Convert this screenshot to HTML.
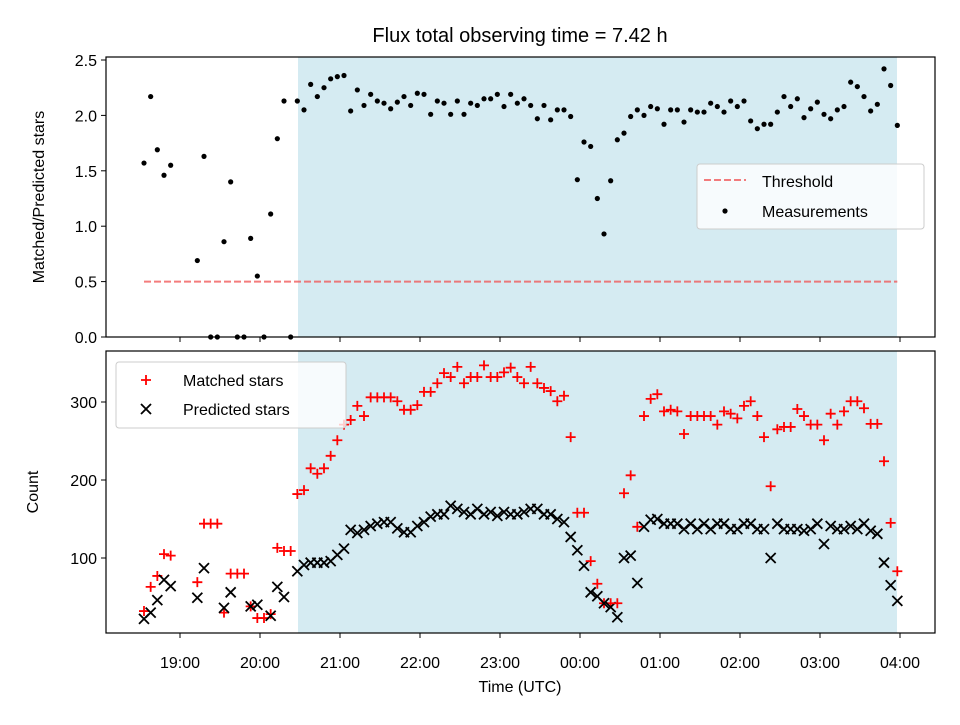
<!DOCTYPE html>
<html><head><meta charset="utf-8"><style>
body{margin:0;background:#fff;}
svg{font-family:"Liberation Sans",sans-serif;}
</style></head><body>
<svg id="chart" width="960" height="720" xmlns="http://www.w3.org/2000/svg">
<rect width="960" height="720" fill="#fff"/>
<text x="520" y="42" font-size="20" text-anchor="middle">Flux total observing time = 7.42 h</text>
<g id="topPanel"></g><g id="botPanel"></g>
</svg>
<script>
// times: minutes after 19:00
const times=[-27,-22,-17,-12,-7,-2,3,8,13,18,23,28,33,38,43,48,53,58,63,68,73,78,83,88,93,98,103,108,113,118,123,128,133,138,143,148,153,158,163,168,173,178,183,188,193,198,203,208,213,218,223,228,233,238,243,248,253,258,263,268,273,278,283,288,293,298,303,308,313,318,323,328,333,338,343,348,353,358,363,368,373,378,383,388,393,398,403,408,413,418,423,428,433,438,443,448,453,458,463,468,473,478,483,488,493,498,503,508,513,518,523,528,533,538];
const ratioVals=[1.57,2.17,1.69,1.46,1.55,null,null,null,0.69,1.63,0,0,0.86,1.40,0,0,0.89,0.55,0,1.11,1.79,2.13,0,
2.13,2.05,2.28,2.17,2.25,2.33,2.35,2.36,2.04,2.23,2.09,2.19,2.13,2.11,2.06,2.12,2.17,2.09,2.2,2.19,2.01,2.13,2.11,2.01,2.13,2.01,2.11,2.09,2.15,2.15,2.19,2.08,2.19,2.11,2.15,2.09,1.97,2.09,1.96,2.05,2.05,1.99,1.42,1.76,1.72,1.25,0.93,1.41,1.78,1.84,1.99,2.05,2.0,2.08,2.06,1.92,2.05,2.05,1.94,2.05,2.03,2.03,2.11,2.08,2.03,2.13,2.08,2.13,1.95,1.88,1.92,1.92,2.03,2.17,2.08,2.15,1.98,2.06,2.12,2.01,1.97,2.05,2.08,2.3,2.26,2.17,2.04,2.1,2.42,2.27,1.91];
const matchedVals=[32,63,77,105,103,null,null,null,69,144,144,144,30,80,80,80,38,23,23,28,113,109,109,
182,187,215,208,215,231,251,271,277,295,282,306,306,306,306,301,290,290,296,313,313,324,337,332,345,324,332,332,347,332,332,338,344,332,324,345,324,318,314,301,308,255,158,158,96,67,42,42,42,183,206,140,282,304,310,288,290,288,259,282,282,282,282,271,288,285,279,295,301,282,255,192,265,268,268,291,282,271,271,251,285,271,288,301,301,292,272,272,224,145,83];
const predictedVals=[22,30,46,72,64,null,null,null,49,87,null,null,36,56,null,null,38,40,null,26,63,50,null,
83,91,94,94,94,96,104,112,136,132,136,141,144,146,146,138,133,133,141,146,153,156,156,167,163,159,156,163,156,159,154,159,156,156,159,163,163,156,156,150,146,127,110,90,56,51,42,37,24,100,103,68,140,149,150,144,144,144,137,144,137,144,137,144,144,137,137,144,144,137,137,100,144,137,137,137,135,137,144,118,141,137,137,141,137,144,135,131,94,65,45];
const xTicks=[0,60,120,180,240,300,360,420,480,540];
const xTickLabels=["19:00","20:00","21:00","22:00","23:00","00:00","01:00","02:00","03:00","04:00"];
const topYTicks=[0,0.5,1,1.5,2,2.5];
const botYTicks=[100,200,300];
const shadeRange=[88.5,537.75];
const threshold=0.5;

const NS="http://www.w3.org/2000/svg";
const L=106,R=935,T1=57,B1=337,T2=351,B2=633;
const xs=t=>180+t*80/60;
const yTop=v=>337-v*110.8;
const yBot=v=>558-(v-100)*0.78;
function mk(p,tag,a){const e=document.createElementNS(NS,tag);for(const k in a)e.setAttribute(k,a[k]);p.appendChild(e);return e;}
const gTop=document.getElementById('topPanel'),gBot=document.getElementById('botPanel');

function panel(g,T,B,yf,ticks,fmt,name){
  const s=mk(g,'rect',{x:xs(shadeRange[0]),y:T,width:xs(shadeRange[1])-xs(shadeRange[0]),height:B-T,fill:'#d5ebf2'});
  
  
  ticks.forEach(v=>{const y=yf(v);
    const l=mk(g,'line',{x1:L-5,x2:L,y1:y,y2:y,stroke:'#000','stroke-width':1});
    
    
    const t=mk(g,'text',{x:L-9,y:y+6,'font-size':16,'text-anchor':'end'});t.textContent=fmt(v);
    
    
  });
  xTicks.forEach(v=>{const x=xs(v);
    const l=mk(g,'line',{x1:x,x2:x,y1:B,y2:B+5,stroke:'#000','stroke-width':1});
    
    
  });
}
panel(gTop,T1,B1,yTop,topYTicks,v=>v.toFixed(1),'top');
panel(gBot,T2,B2,yBot,botYTicks,v=>String(v),'bottom');

const th=mk(gTop,'line',{x1:xs(times[0]),x2:xs(times[times.length-1]),y1:yTop(threshold),y2:yTop(threshold),stroke:'rgba(240,80,80,0.75)','stroke-width':2,'stroke-dasharray':'7,3'});



times.forEach((t,i)=>{const x=xs(t);
  if(ratioVals[i]!=null){const c=mk(gTop,'circle',{cx:x,cy:yTop(ratioVals[i]),r:2.6,fill:'#000'});
    
    }
  if(matchedVals[i]!=null){const y=yBot(matchedVals[i]);
    const p=mk(gBot,'path',{d:`M${x-5} ${y}h10M${x} ${y-5}v10`,stroke:'#f00','stroke-width':1.8});
    
    }
  if(predictedVals[i]!=null){const y=yBot(predictedVals[i]);
    const p=mk(gBot,'path',{d:`M${x-5} ${y-5}l10 10M${x-5} ${y+5}l10 -10`,stroke:'#000','stroke-width':1.8});
    
    }
});

[[T1,B1,gTop,'top-axes-frame'],[T2,B2,gBot,'bottom-axes-frame']].forEach(([T,B,g,n])=>{
  const r=mk(g,'rect',{x:L,y:T,width:R-L,height:B-T,fill:'none',stroke:'#000','stroke-width':1.2});
  
  
});
xTicks.forEach((v,i)=>{const t=mk(gBot,'text',{x:xs(v),y:668,'font-size':16,'text-anchor':'middle'});t.textContent=xTickLabels[i];
  
  });
</script>
<svg style="position:absolute;left:0;top:0" width="960" height="720" xmlns="http://www.w3.org/2000/svg" font-family="Liberation Sans, sans-serif">
<text x="520" y="692" font-size="16" text-anchor="middle">Time (UTC)</text>
<text transform="translate(44,197) rotate(-90)" font-size="16" text-anchor="middle">Matched/Predicted stars</text>
<text transform="translate(38,492) rotate(-90)" font-size="16" text-anchor="middle">Count</text>
<g>
<rect x="697" y="164" width="227" height="65" rx="3" fill="rgba(255,255,255,0.8)" stroke="#ccc"/>
<line x1="704" x2="746" y1="180" y2="180" stroke="rgba(240,80,80,0.75)" stroke-width="2" stroke-dasharray="7,3"/>
<text x="762" y="187" font-size="16">Threshold</text>
<circle cx="725" cy="211" r="2.6" fill="#000"/>
<text x="762" y="217" font-size="16">Measurements</text>
</g>
<g>
<rect x="116" y="362" width="230" height="66" rx="3" fill="rgba(255,255,255,0.8)" stroke="#ccc"/>
<path d="M141 380h10M146 375v10" stroke="#f00" stroke-width="1.8"/>
<text x="183" y="386" font-size="16">Matched stars</text>
<path d="M141 404l10 10M141 414l10 -10" stroke="#000" stroke-width="1.8"/>
<text x="183" y="415" font-size="16">Predicted stars</text>
</g>
</svg>
</body></html>
